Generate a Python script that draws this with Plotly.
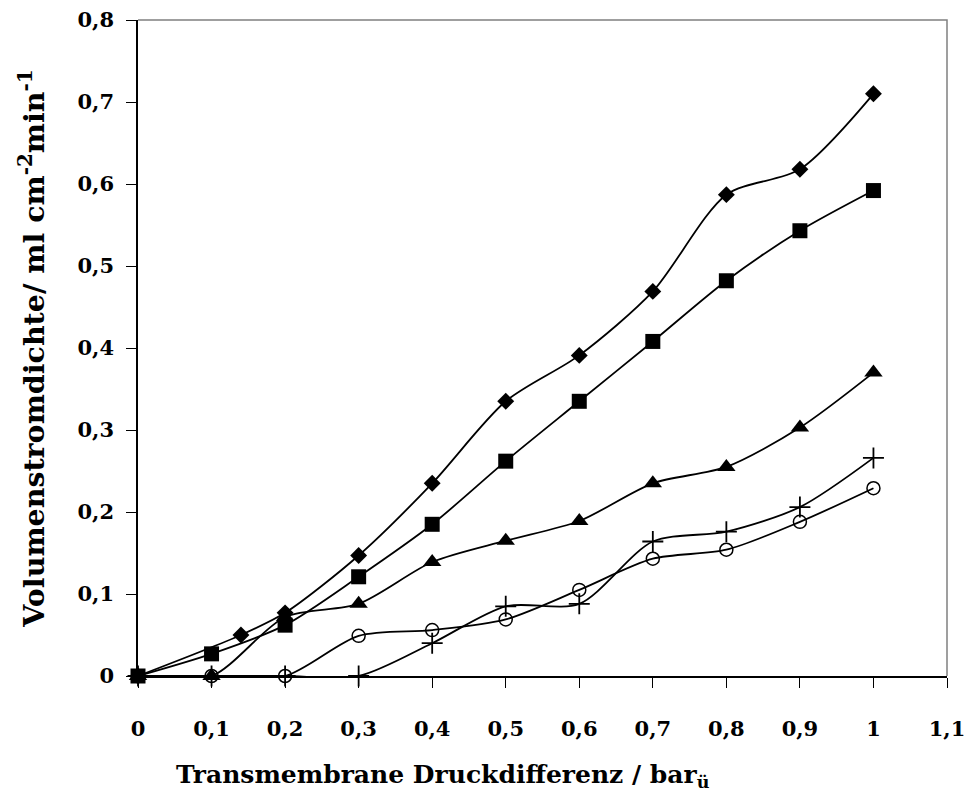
import plotly.graph_objects as go

x = [0, 0.1, 0.2, 0.3, 0.4, 0.5, 0.6, 0.7, 0.8, 0.9, 1.0]
x_diamond = [0, 0.14, 0.2, 0.3, 0.4, 0.5, 0.6, 0.7, 0.8, 0.9, 1.0]
y_diamond = [0, 0.050, 0.077, 0.147, 0.235, 0.335, 0.391, 0.469, 0.587, 0.618, 0.710]
y_square = [0, 0.027, 0.062, 0.121, 0.185, 0.262, 0.335, 0.408, 0.482, 0.543, 0.592]
y_triangle = [0, 0, 0.072, 0.088, 0.139, 0.165, 0.189, 0.235, 0.255, 0.303, 0.370]
y_circle = [0, 0, 0, 0.049, 0.056, 0.069, 0.105, 0.143, 0.154, 0.188, 0.229]
y_plus = [0, 0, 0, 0, 0.040, 0.085, 0.088, 0.164, 0.176, 0.206, 0.266]

x_ticks = [0, 0.1, 0.2, 0.3, 0.4, 0.5, 0.6, 0.7, 0.8, 0.9, 1.0, 1.1]
x_ticklabels = ["0", "0,1", "0,2", "0,3", "0,4", "0,5", "0,6", "0,7", "0,8", "0,9", "1", "1,1"]
y_ticks = [0, 0.1, 0.2, 0.3, 0.4, 0.5, 0.6, 0.7, 0.8]
y_ticklabels = ["0", "0,1", "0,2", "0,3", "0,4", "0,5", "0,6", "0,7", "0,8"]

x_title = "Transmembrane Druckdifferenz / bar<sub>ü</sub>"
y_title = "Volumenstromdichte/ ml cm<sup>-2</sup>min<sup>-1</sup>"

FONT = "DejaVu Serif"

fig = go.Figure()
series = [
    (x, y_circle, dict(symbol="circle-open", size=13, color="black", line=dict(color="black", width=1.5))),
    (x, y_plus, dict(symbol="cross-thin-open", size=15, color="black", line=dict(color="black", width=1.8))),
    (x, y_triangle, dict(symbol="triangle-up", size=16, color="black")),
    (x, y_square, dict(symbol="square", size=15, color="black")),
    (x_diamond, y_diamond, dict(symbol="diamond", size=13, color="black")),
]
for xs, ys, mk in series:
    fig.add_trace(go.Scatter(
        x=xs, y=ys, mode="lines+markers",
        line=dict(color="black", width=1.8, shape="spline", smoothing=0.8),
        marker=mk, showlegend=False, cliponaxis=False,
    ))

fig.add_shape(type="path", xref="paper", yref="paper",
              path="M 0,1 L 1,1 L 1,0", line=dict(color="#808080", width=1.5))

fig.add_annotation(text=x_title, xref="paper", yref="paper", x=0.377, y=-0.152,
                   xanchor="center", yanchor="middle", showarrow=False,
                   font=dict(family=FONT, size=25, weight="bold"))

fig.update_layout(
    width=966, height=802,
    margin=dict(l=138, r=19, t=20, b=126),
    paper_bgcolor="white", plot_bgcolor="white",
    font=dict(family=FONT, size=21, color="black", weight="bold"),
    xaxis=dict(
        range=[0, 1.1], tickvals=x_ticks, ticktext=x_ticklabels,
        showgrid=False, zeroline=False, showline=True, linecolor="black", linewidth=1.5,
        ticks="outside", ticklen=10, tickwidth=1.2, tickcolor="black",
        ticklabelstandoff=23, ticklabeloverflow="allow",
        automargin=False,
    ),
    yaxis=dict(
        range=[0, 0.8], tickvals=y_ticks, ticktext=y_ticklabels,
        showgrid=False, zeroline=False, showline=True, linecolor="black", linewidth=1.5,
        ticks="outside", ticklen=10, tickwidth=1.2, tickcolor="black",
        ticklabelstandoff=8, ticklabeloverflow="allow",
        title=dict(text=y_title, standoff=25,
                   font=dict(family=FONT, size=28.5, weight="bold")),
        automargin=False,
    ),
)

fig.write_html("out.html", config={"displayModeBar": False},
               post_script="document.body.style.margin='0';document.body.style.overflow='hidden';")
